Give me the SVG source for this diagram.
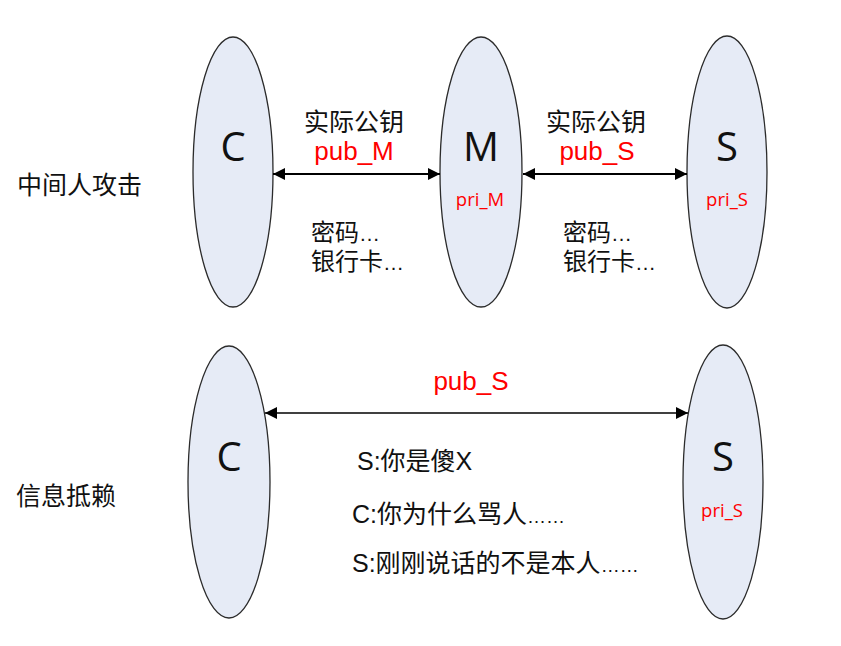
<svg xmlns="http://www.w3.org/2000/svg" width="841" height="646" viewBox="0 0 841 646">
<style>
.node ellipse{fill:#e6ebf6;stroke:#2b2b2b;stroke-width:1.3}
text{font-family:"Open Sans","Noto Sans CJK SC",sans-serif;fill:#111}
.big{font-size:40px;text-anchor:middle}
.red{fill:#ff0000}
.key{font-size:26px;text-anchor:middle}
.pub{font-family:"Liberation Sans",sans-serif}
.pri{font-size:18.5px;text-anchor:middle}
.cn{font-family:"Liberation Sans","Noto Sans CJK SC",sans-serif}
.msg{font-size:24px}
.msg2{font-size:25px}
.ell{font-family:"Liberation Sans",sans-serif}
.conn line{stroke:#000}
</style>
<defs>
<marker id="ah" viewBox="0 0 10 10" refX="10" refY="5" markerWidth="6" markerHeight="6" orient="auto-start-reverse" markerUnits="strokeWidth"><path d="M0,0 L10,5 L0,10 z" fill="#000"/></marker>
<marker id="ah2" viewBox="0 0 10 10" refX="10" refY="5" markerWidth="8" markerHeight="8" orient="auto-start-reverse" markerUnits="strokeWidth"><path d="M0,0 L10,5 L0,10 z" fill="#000"/></marker>
</defs>
<g id="label-mitm"><text x="17" y="194" class="cn" style="font-size:25px">中间人攻击</text></g>
<g id="label-repudiation"><text x="16" y="505" class="cn" style="font-size:25px">信息抵赖</text></g>
<g id="node-C1" class="node"><ellipse cx="233" cy="172" rx="40" ry="135"/><text x="233" y="161" class="big">C</text></g>
<g id="node-M" class="node"><ellipse cx="481" cy="172" rx="41" ry="135"/><text x="481" y="161" class="big">M</text><text x="480" y="206" class="pri red">pri_M</text></g>
<g id="node-S1" class="node"><ellipse cx="727" cy="172" rx="40" ry="136"/><text x="727" y="161" class="big">S</text><text x="727" y="206" class="pri red">pri_S</text></g>
<g id="node-C2" class="node"><ellipse cx="229" cy="482" rx="41" ry="136"/><text x="229" y="471" class="big">C</text></g>
<g id="node-S2" class="node"><ellipse cx="723" cy="482" rx="40" ry="137"/><text x="723" y="471" class="big">S</text><text x="722" y="517" class="pri red">pri_S</text></g>
<g id="connectors" class="conn">
<line x1="273" y1="174" x2="440" y2="174" stroke-width="2" marker-start="url(#ah)" marker-end="url(#ah)"/>
<line x1="523" y1="174" x2="687" y2="174" stroke-width="2" marker-start="url(#ah)" marker-end="url(#ah)"/>
<line x1="265" y1="413" x2="688" y2="413" stroke-width="1.5" marker-start="url(#ah2)" marker-end="url(#ah2)"/>
</g>
<g id="labels">
<text x="354" y="131" class="cn" style="font-size:25px;text-anchor:middle">实际公钥</text>
<text x="354" y="160" class="key pub red">pub_M</text>
<text x="596" y="131" class="cn" style="font-size:25px;text-anchor:middle">实际公钥</text>
<text x="597" y="160" class="key pub red">pub_S</text>
<text x="311" y="241" class="cn msg">密码<tspan class="ell" style="font-size:21px">…</tspan></text>
<text x="311" y="270" class="cn msg">银行卡<tspan class="ell" style="font-size:21px">…</tspan></text>
<text x="563" y="241" class="cn msg">密码<tspan class="ell" style="font-size:21px">…</tspan></text>
<text x="563" y="270" class="cn msg">银行卡<tspan class="ell" style="font-size:21px">…</tspan></text>
<text x="471" y="390" class="key pub red">pub_S</text>
<text x="357" y="470" class="cn msg2">S:你是傻X</text>
<text x="352" y="523" class="cn msg2">C:你为什么骂人<tspan class="ell" style="font-size:19px">……</tspan></text>
<text x="352" y="572" class="cn msg2">S:刚刚说话的不是本人<tspan class="ell" style="font-size:19px">……</tspan></text>
</g>
</svg>
